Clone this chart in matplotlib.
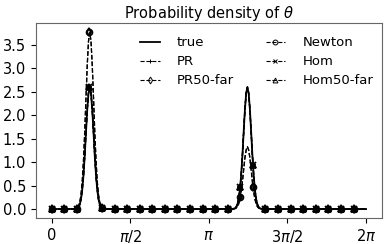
import numpy as np
import matplotlib
matplotlib.use('Agg')
import matplotlib.pyplot as plt
from matplotlib.lines import Line2D

# sample grid where the estimates are marked (25 points on [0, 2pi))
theta_grid = [0.000, 0.251, 0.503, 0.754, 1.005, 1.257, 1.508, 1.759, 2.011,
              2.262, 2.513, 2.765, 3.016, 3.267, 3.519, 3.770, 4.021, 4.273,
              4.524, 4.775, 5.027, 5.278, 5.529, 5.781, 6.032]

# estimates that match the true density
close_grid = [0.0, 0.0, 0.01, 2.60, 0.03, 0.0, 0.0, 0.0, 0.0, 0.0, 0.0, 0.0, 0.0,
              0.0, 0.0, 0.48, 0.93, 0.0, 0.0, 0.0, 0.0, 0.0, 0.0, 0.0, 0.0]
# estimates with the wrong weights
far_grid = [0.0, 0.0, 0.01, 3.77, 0.02, 0.0, 0.0, 0.0, 0.0, 0.0, 0.0, 0.0, 0.0,
            0.0, 0.0, 0.25, 0.48, 0.0, 0.0, 0.0, 0.0, 0.0, 0.0, 0.0, 0.0]

# dense curves
theta_fine = [0.000, 0.462, 0.512, 0.537, 0.562, 0.587, 0.612, 0.637, 0.662, 0.687,
              0.712, 0.737, 0.762, 0.787, 0.812, 0.837, 0.862, 0.887, 0.912, 0.937,
              0.962, 0.987, 1.012, 1.062,
              3.612, 3.662, 3.687, 3.712, 3.737, 3.762, 3.787, 3.812, 3.837, 3.862,
              3.887, 3.912, 3.937, 3.962, 3.987, 4.012, 4.037, 4.062, 4.087, 4.112,
              4.137, 4.162, 4.212, 6.283]
true_fine = [0.0, 0.002, 0.015, 0.041, 0.097, 0.21, 0.41, 0.72, 1.14, 1.64,
             2.12, 2.47, 2.60, 2.47, 2.12, 1.64, 1.14, 0.72, 0.41, 0.21,
             0.097, 0.041, 0.015, 0.002,
             0.002, 0.015, 0.041, 0.097, 0.21, 0.41, 0.72, 1.14, 1.64, 2.12,
             2.47, 2.60, 2.47, 2.12, 1.64, 1.14, 0.72, 0.41, 0.21, 0.097,
             0.041, 0.015, 0.002, 0.0]
far_fine = [0.0, 0.003, 0.022, 0.06, 0.14, 0.30, 0.59, 1.04, 1.65, 2.38,
            3.07, 3.58, 3.77, 3.58, 3.07, 2.38, 1.65, 1.04, 0.59, 0.30,
            0.14, 0.06, 0.022, 0.003,
            0.001, 0.008, 0.021, 0.05, 0.11, 0.21, 0.37, 0.58, 0.84, 1.09,
            1.26, 1.33, 1.26, 1.09, 0.84, 0.58, 0.37, 0.21, 0.11, 0.05,
            0.021, 0.008, 0.001, 0.0]

labels = ['PR', 'PR50-far', 'Newton', 'Hom', 'Hom50-far']
markers = ['+', 'd', 'o', 'x', '^']
is_far = [False, True, True, False, False]

xtick_pos = [0, np.pi / 2, np.pi, 3 * np.pi / 2, 2 * np.pi]
xtick_lab = ['0', r'$\pi/2$', r'$\pi$', r'$3\pi/2$', r'$2\pi$']

fig = plt.figure(figsize=(3.9, 2.44), dpi=100)
ax = fig.add_axes([0.092, 0.107, 0.887, 0.797])

ax.plot(theta_fine, true_fine, color='k', lw=1.3)
for lab, m, far in zip(labels, markers, is_far):
    yf = far_fine if far else true_fine
    yg = far_grid if far else close_grid
    ax.plot(theta_fine, yf, color='k', ls='--', lw=0.9)
    ax.plot(theta_grid, yg, ls='none', marker=m, ms=4.2, mfc='none', mec='k', mew=1.3)

handles = [Line2D([], [], color='k', lw=1.3)]
for m in markers:
    handles.append(Line2D([], [], color='k', ls='--', lw=0.8, marker=m, ms=3.5,
                          mfc='none', mew=0.7))
ax.legend(handles, ['true'] + labels, ncol=2, frameon=False, fontsize=9.5,
          loc='upper right', bbox_to_anchor=(1.01, 0.995), handlelength=1.5,
          handletextpad=1.3, columnspacing=2.4, labelspacing=0.45)

ax.set_xticks(xtick_pos)
ax.set_xticklabels(xtick_lab)
ax.tick_params(labelsize=10.5)
ax.set_yticks([0.0, 0.5, 1.0, 1.5, 2.0, 2.5, 3.0, 3.5])
ax.set_title(r'Probability density of $\theta$', fontsize=10.5, pad=3)
for s in ax.spines.values():
    s.set_color('0.4')

fig.savefig('out.png', dpi=100)
